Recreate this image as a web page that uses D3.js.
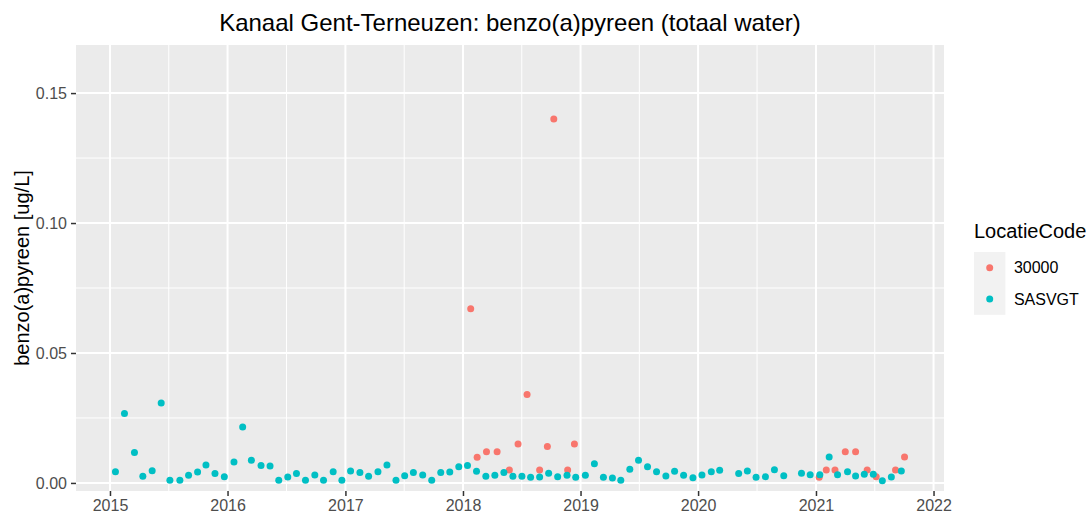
<!DOCTYPE html>
<html><head><meta charset="utf-8">
<script src="https://cdn.jsdelivr.net/npm/d3@7"></script>
<style>
body{margin:0;background:#fff}
svg{display:block}
text{font-family:"Liberation Sans",Arial,sans-serif}
</style>
</head><body>
<svg id="c" width="1089" height="513"></svg>
<script>
const chartTitle = "Kanaal Gent-Terneuzen: benzo(a)pyreen (totaal water)";
const yAxisTitle = "benzo(a)pyreen [ug/L]";
const legendTitle = "LocatieCode";
const locations = ["30000", "SASVGT"];
const locationColors = ["#F8766D", "#00BFC4"];

const dates30000 = ["2018-01-25","2018-02-14","2018-03-15","2018-04-17","2018-05-25","2018-06-21","2018-07-19","2018-08-27","2018-09-20","2018-10-10","2018-11-22","2018-12-13",
  "2021-01-11","2021-02-02","2021-03-01","2021-04-02","2021-05-04","2021-06-09","2021-07-07","2021-09-05","2021-10-03"];
const values30000 = [0.067,0.0099,0.012,0.012,0.005,0.015,0.034,0.005,0.014,0.14,0.005,0.015,
  0.0022,0.005,0.005,0.012,0.012,0.005,0.0024,0.005,0.01];

const datesSASVGT = ["2015-01-18","2015-02-15","2015-03-18","2015-04-13","2015-05-12","2015-06-09","2015-07-06","2015-08-06","2015-09-02","2015-09-30","2015-10-26","2015-11-23","2015-12-22",
  "2016-01-21","2016-02-17","2016-03-15","2016-04-14","2016-05-12","2016-06-08","2016-07-06","2016-08-02","2016-08-30","2016-09-28","2016-10-25","2016-11-24","2016-12-21",
  "2017-01-17","2017-02-15","2017-03-14","2017-04-12","2017-05-10","2017-06-07","2017-07-04","2017-07-31","2017-08-29","2017-09-26","2017-10-24","2017-11-21","2017-12-19",
  "2018-01-15","2018-02-12","2018-03-13","2018-04-10","2018-05-08","2018-06-05","2018-07-03","2018-07-30","2018-08-27","2018-09-24","2018-10-22","2018-11-20","2018-12-17",
  "2019-01-16","2019-02-13","2019-03-13","2019-04-10","2019-05-06","2019-06-03","2019-06-30","2019-07-28","2019-08-25","2019-09-23","2019-10-20","2019-11-17","2019-12-16",
  "2020-01-13","2020-02-11","2020-03-08","2020-05-06","2020-06-02","2020-06-29","2020-07-28","2020-08-25","2020-09-23","2020-11-17","2020-12-14",
  "2021-01-13","2021-02-11","2021-03-09","2021-04-09","2021-05-04","2021-05-31","2021-06-28","2021-07-26","2021-08-23","2021-09-23"];
const valuesSASVGT = [0.0043,0.0267,0.0117,0.0026,0.0047,0.0308,0.001,0.001,0.003,0.0042,0.0069,0.0036,0.0024,
  0.0081,0.0215,0.0087,0.0067,0.0065,0.001,0.0023,0.0036,0.001,0.0031,0.001,0.0043,0.001,
  0.0046,0.004,0.0026,0.0043,0.0069,0.001,0.0028,0.004,0.0031,0.001,0.004,0.0042,0.0062,
  0.0067,0.0045,0.0026,0.003,0.004,0.0026,0.0026,0.0022,0.0023,0.0037,0.0024,0.003,0.0022,
  0.003,0.0074,0.0022,0.0019,0.001,0.0053,0.0087,0.0062,0.0043,0.0027,0.0045,0.003,0.002,
  0.0031,0.0043,0.0049,0.0036,0.0046,0.0022,0.0024,0.0051,0.0028,0.0037,0.0032,
  0.0032,0.01,0.0032,0.0043,0.0027,0.0033,0.0033,0.0008,0.0023,0.0046];

const yTickValues = [0, 0.05, 0.10, 0.15];
const yMinorValues = [0.025, 0.075, 0.125];
const xTickYears = [2015, 2016, 2017, 2018, 2019, 2020, 2021, 2022];
const yLimits = [-0.0031, 0.1685];

const W = 1089, H = 513;
const panel = {left: 76, right: 944, top: 45, bottom: 491};
const parse = d3.timeParse("%Y-%m-%d");
const FONT = "Liberation Sans, Arial, sans-serif";
const pointR = 3.5;

const series = [
  {name: locations[0], color: locationColors[0], pts: dates30000.map((d,i)=>({date: parse(d), v: values30000[i]}))},
  {name: locations[1], color: locationColors[1], pts: datesSASVGT.map((d,i)=>({date: parse(d), v: valuesSASVGT[i]}))}
];

const allDates = series.flatMap(s => s.pts.map(p => p.date));
const [dMin, dMax] = d3.extent(allDates);
const span = dMax - dMin;
const x = d3.scaleTime()
  .domain([new Date(+dMin - 0.05*span), new Date(+dMax + 0.05*span)])
  .range([panel.left, panel.right]);
const y = d3.scaleLinear().domain(yLimits).range([panel.bottom, panel.top]);

const svg = d3.select("#c");
svg.append("rect").attr("width", W).attr("height", H).attr("fill", "#fff");

// panel
svg.append("rect").attr("x", panel.left).attr("y", panel.top)
  .attr("width", panel.right - panel.left).attr("height", panel.bottom - panel.top)
  .attr("fill", "#EBEBEB");

const xMajor = xTickYears.map(yr => new Date(yr, 0, 1));
const xMinor = xTickYears.slice(0, -1).map(yr => new Date((+new Date(yr,0,1) + +new Date(yr+1,0,1))/2));

const grid = svg.append("g");
xMinor.forEach(d => grid.append("line").attr("x1", x(d)).attr("x2", x(d))
  .attr("y1", panel.top).attr("y2", panel.bottom).attr("stroke", "#fff").attr("stroke-width", 1));
yMinorValues.forEach(v => grid.append("line").attr("y1", y(v)).attr("y2", y(v))
  .attr("x1", panel.left).attr("x2", panel.right).attr("stroke", "#fff").attr("stroke-width", 1));
xMajor.forEach(d => grid.append("line").attr("x1", x(d)).attr("x2", x(d))
  .attr("y1", panel.top).attr("y2", panel.bottom).attr("stroke", "#fff").attr("stroke-width", 2));
yTickValues.forEach(v => grid.append("line").attr("y1", y(v)).attr("y2", y(v))
  .attr("x1", panel.left).attr("x2", panel.right).attr("stroke", "#fff").attr("stroke-width", 2));

// points
series.forEach(s => {
  svg.append("g").selectAll("circle").data(s.pts).join("circle")
    .attr("cx", d => x(d.date)).attr("cy", d => y(d.v)).attr("r", pointR)
    .attr("fill", s.color);
});

// axes
const xAxis = d3.axisBottom(x).tickValues(xMajor).tickFormat(d3.timeFormat("%Y"))
  .tickSize(5).tickPadding(4);
const gx = svg.append("g").attr("transform", `translate(0,${panel.bottom})`).call(xAxis);
gx.select(".domain").remove();
gx.selectAll(".tick line").attr("stroke", "#333333").attr("stroke-width", 1.5);
gx.selectAll(".tick text").attr("fill", "#4D4D4D").attr("font-size", "16px")
  .attr("font-family", FONT);

const yAxis = d3.axisLeft(y).tickValues(yTickValues).tickFormat(d3.format(".2f"))
  .tickSize(5).tickPadding(4);
const gy = svg.append("g").attr("transform", `translate(${panel.left},0)`).call(yAxis);
gy.select(".domain").remove();
gy.selectAll(".tick line").attr("stroke", "#333333").attr("stroke-width", 1.5);
gy.selectAll(".tick text").attr("fill", "#4D4D4D").attr("font-size", "16px")
  .attr("font-family", FONT);

// titles
svg.append("text").attr("x", (panel.left + panel.right)/2).attr("y", 31)
  .attr("text-anchor", "middle").attr("font-size", "24px").attr("fill", "#000")
  .text(chartTitle);
svg.append("text")
  .attr("transform", `translate(29,${(panel.top + panel.bottom)/2}) rotate(-90)`)
  .attr("text-anchor", "middle").attr("font-size", "20px").attr("fill", "#000")
  .text(yAxisTitle);

// legend
const lg = svg.append("g").attr("transform", "translate(974,0)");
lg.append("text").attr("x", 0).attr("y", 238).attr("font-size", "20px").attr("fill", "#000").text(legendTitle);
const keyH = 31.4, keyTop = 252;
lg.append("rect").attr("x", 0).attr("y", keyTop).attr("width", keyH).attr("height", keyH*2).attr("fill", "#F2F2F2");
series.forEach((s, i) => {
  const cy = keyTop + keyH*i + keyH/2;
  lg.append("circle").attr("cx", keyH/2).attr("cy", cy).attr("r", pointR).attr("fill", s.color);
  lg.append("text").attr("x", keyH + 8.5).attr("y", cy).attr("dy", "0.35em")
    .attr("font-size", "16px").attr("fill", "#000").text(s.name);
});
</script>
</body></html>
